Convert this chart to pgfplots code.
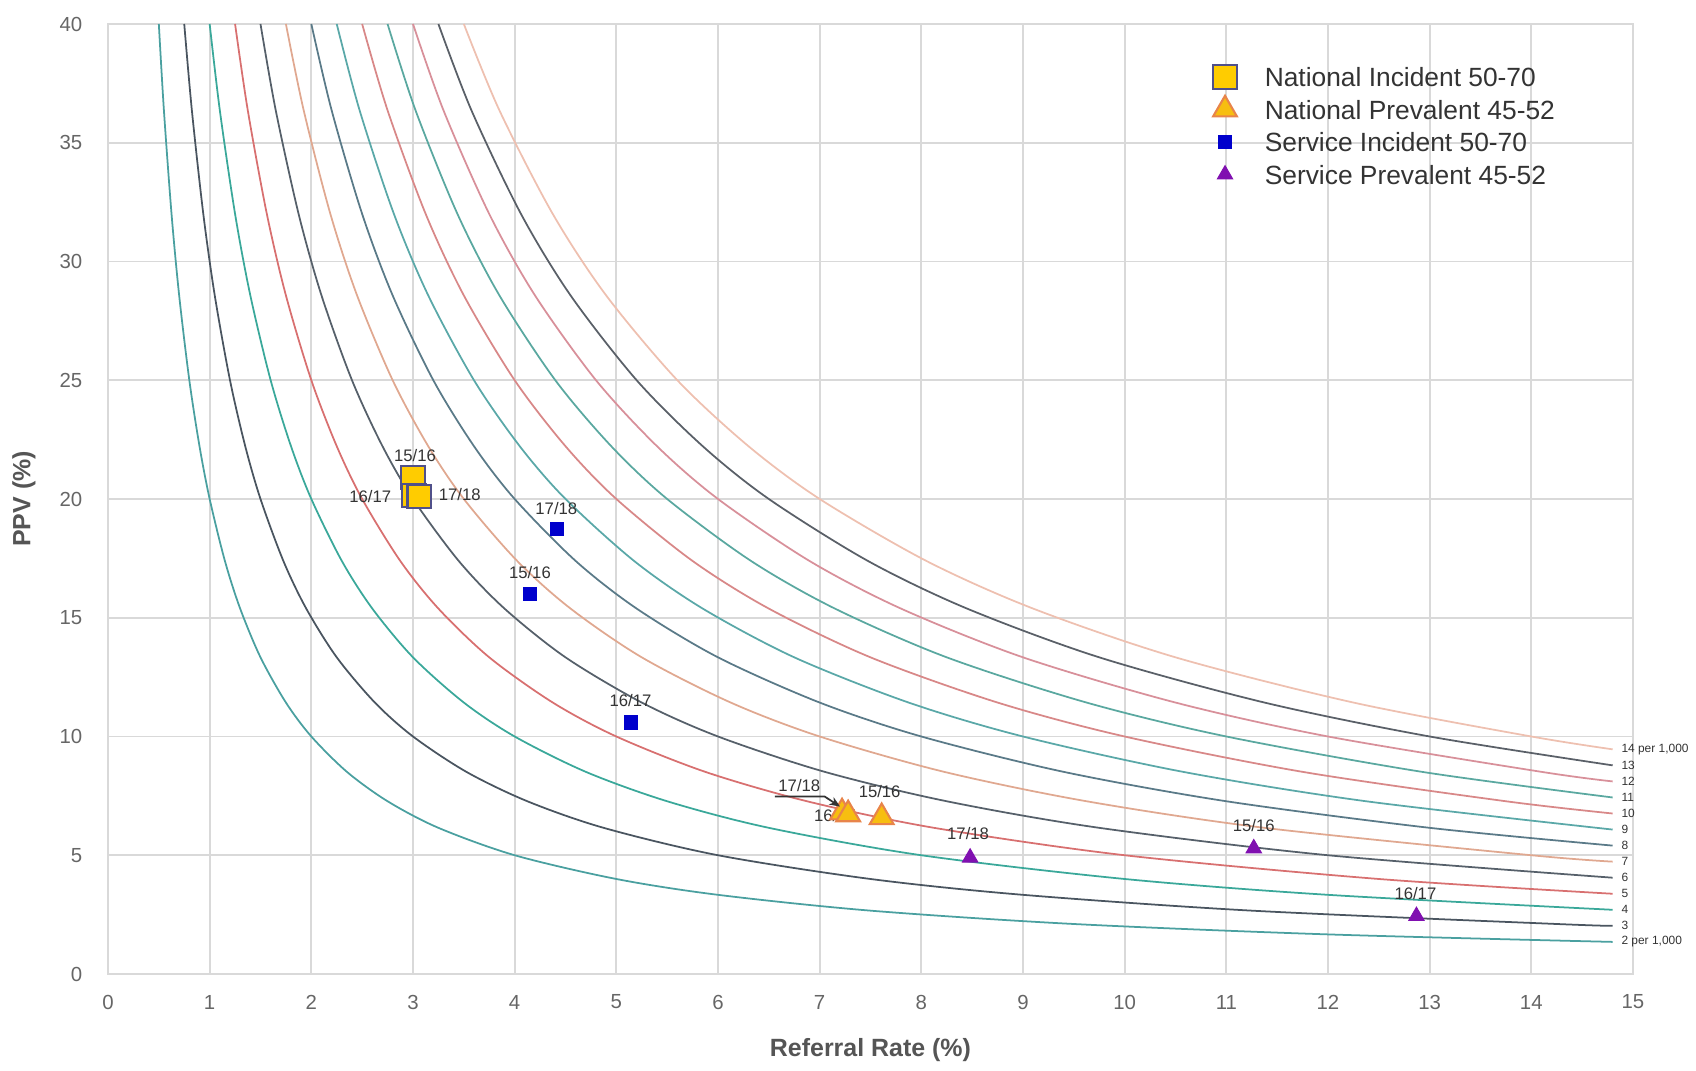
\documentclass[border=0pt]{standalone}
\usepackage{fontspec}
\setmainfont{Liberation Sans}
\usepackage{pgfplots}
\pgfplotsset{compat=1.18}
\usetikzlibrary{arrows.meta}
\definecolor{gridc}{HTML}{D9D9D9}
\definecolor{tickc}{HTML}{666666}
\definecolor{labc}{HTML}{555555}
\definecolor{legc}{HTML}{333333}
\definecolor{c2}{HTML}{4AA0A0}
\definecolor{c3}{HTML}{4A5560}
\definecolor{c4}{HTML}{3AA89A}
\definecolor{c5}{HTML}{D87070}
\definecolor{c6}{HTML}{56606A}
\definecolor{c7}{HTML}{E0A890}
\definecolor{c8}{HTML}{5A7A88}
\definecolor{c9}{HTML}{5AA8A8}
\definecolor{c10}{HTML}{D88888}
\definecolor{c11}{HTML}{5AA8A0}
\definecolor{c12}{HTML}{D8909A}
\definecolor{c13}{HTML}{5A6068}
\definecolor{c14}{HTML}{EEC0B0}
\definecolor{yel}{HTML}{FFCC00}
\definecolor{yelor}{HTML}{F7BE10}
\definecolor{natincb}{HTML}{50508A}
\definecolor{natprevb}{HTML}{E8844A}
\definecolor{servinc}{HTML}{0000CC}
\definecolor{servprev}{HTML}{8010B0}
\tikzset{
  plab/.style={font=\fontsize{4.75}{5}\selectfont, text=legc, inner sep=0pt},
  clab/.style={font=\fontsize{3.4}{4}\selectfont, text=legc, inner sep=0pt, anchor=west},
}
\pgfplotsset{
  iso/.style={smooth, line width=0.5pt, forget plot},
  mylegimg/.style={legend image code/.code={\path[draw=none, fill=none] (-0.14cm,-4pt) rectangle (0.14cm,4pt); \draw[##1] plot coordinates {(0cm,0cm)};}},
}
\begin{document}
\begin{tikzpicture}
\begin{axis}[
  at={(0,0)}, anchor=south west,
  width=15.25cm, height=9.5cm, scale only axis,
  xmin=0, xmax=15, ymin=0, ymax=40,
  xtick={0,1,2,3,4,5,6,7,8,9,10,11,12,13,14,15},
  ytick={0,5,10,15,20,25,30,35,40},
  grid=major, grid style={draw=gridc, line width=0.5pt},
  axis line style={draw=gridc, line width=0.5pt},
  major tick length=0pt,
  tick label style={font=\fontsize{5.8}{6}\selectfont, text=tickc, inner sep=0pt},
  xticklabel style={anchor=center, yshift=-0.28cm},
  yticklabel style={anchor=east, xshift=-0.25cm},
  /pgf/number format/assume math mode=true,
  xlabel={Referral Rate (\%)}, ylabel={PPV (\%)},
  label style={font=\bfseries\fontsize{7.1}{8}\selectfont, text=labc},
  xlabel style={at={(axis description cs:0.5,-0.08)}, anchor=center},
  ylabel style={at={(axis description cs:-0.0551,0.5)}, anchor=center},
  clip mode=individual,
  legend cell align=left,
  legend style={at={(axis description cs:0.7233,0.959)}, anchor=north west,
    draw=none, fill=none, inner sep=0pt, outer sep=0pt,
    column sep=0.24cm, row sep=1.25pt,
    font=\fontsize{7.5}{8}\selectfont, text=legc,
    nodes={inner sep=0.5pt, text height=5.5pt, text depth=0pt}},
]
% iso-lines: detection rate per 1,000
\addplot[iso, c2] coordinates {(0.5,40) (0.55,36.364) (0.625,32) (0.7,28.571) (0.8,25) (0.9,22.222) (1,20) (1.15,17.391) (1.3,15.385) (1.5,13.333) (1.75,11.429) (2,10) (2.35,8.511) (2.75,7.273) (3.25,6.154) (4,5) (5,4) (6,3.333) (7.5,2.667) (9.5,2.105) (12,1.667) (14.8,1.351)};
\addplot[iso, c3] coordinates {(0.75,40) (0.825,36.364) (0.9375,32) (1.05,28.571) (1.2,25) (1.35,22.222) (1.5,20) (1.725,17.391) (1.95,15.385) (2.25,13.333) (2.625,11.429) (3,10) (3.525,8.511) (4.125,7.273) (4.875,6.154) (6,5) (7.5,4) (9,3.333) (11.25,2.667) (14.25,2.105) (14.8,2.027)};
\addplot[iso, c4] coordinates {(1,40) (1.1,36.364) (1.25,32) (1.4,28.571) (1.6,25) (1.8,22.222) (2,20) (2.3,17.391) (2.6,15.385) (3,13.333) (3.5,11.429) (4,10) (4.7,8.511) (5.5,7.273) (6.5,6.154) (8,5) (10,4) (12,3.333) (14.8,2.703)};
\addplot[iso, c5] coordinates {(1.25,40) (1.375,36.364) (1.5625,32) (1.75,28.571) (2,25) (2.25,22.222) (2.5,20) (2.875,17.391) (3.25,15.385) (3.75,13.333) (4.375,11.429) (5,10) (5.875,8.511) (6.875,7.273) (8.125,6.154) (10,5) (12.5,4) (14.8,3.378)};
\addplot[iso, c6] coordinates {(1.5,40) (1.65,36.364) (1.875,32) (2.1,28.571) (2.4,25) (2.7,22.222) (3,20) (3.45,17.391) (3.9,15.385) (4.5,13.333) (5.25,11.429) (6,10) (7.05,8.511) (8.25,7.273) (9.75,6.154) (12,5) (14.8,4.054)};
\addplot[iso, c7] coordinates {(1.75,40) (1.925,36.364) (2.1875,32) (2.45,28.571) (2.8,25) (3.15,22.222) (3.5,20) (4.025,17.391) (4.55,15.385) (5.25,13.333) (6.125,11.429) (7,10) (8.225,8.511) (9.625,7.273) (11.375,6.154) (14,5) (14.8,4.730)};
\addplot[iso, c8] coordinates {(2,40) (2.2,36.364) (2.5,32) (2.8,28.571) (3.2,25) (3.6,22.222) (4,20) (4.6,17.391) (5.2,15.385) (6,13.333) (7,11.429) (8,10) (9.4,8.511) (11,7.273) (13,6.154) (14.8,5.405)};
\addplot[iso, c9] coordinates {(2.25,40) (2.475,36.364) (2.8125,32) (3.15,28.571) (3.6,25) (4.05,22.222) (4.5,20) (5.175,17.391) (5.85,15.385) (6.75,13.333) (7.875,11.429) (9,10) (10.575,8.511) (12.375,7.273) (14.8,6.081)};
\addplot[iso, c10] coordinates {(2.5,40) (2.75,36.364) (3.125,32) (3.5,28.571) (4,25) (4.5,22.222) (5,20) (5.75,17.391) (6.5,15.385) (7.5,13.333) (8.75,11.429) (10,10) (11.75,8.511) (13.75,7.273) (14.8,6.757)};
\addplot[iso, c11] coordinates {(2.75,40) (3.025,36.364) (3.4375,32) (3.85,28.571) (4.4,25) (4.95,22.222) (5.5,20) (6.325,17.391) (7.15,15.385) (8.25,13.333) (9.625,11.429) (11,10) (12.925,8.511) (14.8,7.432)};
\addplot[iso, c12] coordinates {(3,40) (3.3,36.364) (3.75,32) (4.2,28.571) (4.8,25) (5.4,22.222) (6,20) (6.9,17.391) (7.8,15.385) (9,13.333) (10.5,11.429) (12,10) (14.1,8.511) (14.8,8.108)};
\addplot[iso, c13] coordinates {(3.25,40) (3.575,36.364) (4.0625,32) (4.55,28.571) (5.2,25) (5.85,22.222) (6.5,20) (7.475,17.391) (8.45,15.385) (9.75,13.333) (11.375,11.429) (13,10) (14.8,8.784)};
\addplot[iso, c14] coordinates {(3.5,40) (3.85,36.364) (4.375,32) (4.9,28.571) (5.6,25) (6.3,22.222) (7,20) (8.05,17.391) (9.1,15.385) (10.5,13.333) (12.25,11.429) (14,10) (14.8,9.459)};
% iso-line labels
\node[clab] at (axis cs:14.88,9.459) {14 per 1,000};
\node[clab] at (axis cs:14.88,8.784) {13};
\node[clab] at (axis cs:14.88,8.108) {12};
\node[clab] at (axis cs:14.88,7.432) {11};
\node[clab] at (axis cs:14.88,6.757) {10};
\node[clab] at (axis cs:14.88,6.081) {9};
\node[clab] at (axis cs:14.88,5.405) {8};
\node[clab] at (axis cs:14.88,4.730) {7};
\node[clab] at (axis cs:14.88,4.054) {6};
\node[clab] at (axis cs:14.88,3.378) {5};
\node[clab] at (axis cs:14.88,2.703) {4};
\node[clab] at (axis cs:14.88,2.027) {3};
\node[clab] at (axis cs:14.88,1.351) {2 per 1,000};
% label partly hidden behind triangle
\node[plab] at (axis cs:7.15,6.69) {16/17};
% data
\addplot[only marks, mark=square*, mark size=3.3pt, mark options={fill=yel, draw=natincb, line width=0.6pt}, mylegimg]
  coordinates {(3.00,20.9) (3.01,20.15) (3.06,20.1)};
\addlegendentry{National Incident 50-70}
\addplot[only marks, mark=triangle*, mark size=3.9pt, mark options={fill=yelor, draw=natprevb, line width=0.6pt}, mylegimg]
  coordinates {(7.61,6.6) (7.22,6.8) (7.28,6.72)};
\addlegendentry{National Prevalent 45-52}
\addplot[only marks, mark=square*, mark size=1.85pt, mark options={fill=servinc, draw=servinc, line width=0.3pt}, mylegimg]
  coordinates {(4.15,16.0) (5.14,10.59) (4.42,18.74)};
\addlegendentry{Service Incident 50-70}
\addplot[only marks, mark=triangle*, mark size=2.5pt, mark options={fill=servprev, draw=servprev, line width=0.3pt}, mylegimg]
  coordinates {(11.27,5.29) (12.87,2.44) (8.48,4.9)};
\addlegendentry{Service Prevalent 45-52}
% point labels
\node[plab] at (axis cs:3.02,21.85) {15/16};
\node[plab] at (axis cs:2.58,20.1) {16/17};
\node[plab] at (axis cs:3.46,20.17) {17/18};
\node[plab] at (axis cs:4.41,19.61) {17/18};
\node[plab] at (axis cs:4.15,16.9) {15/16};
\node[plab] at (axis cs:5.14,11.5) {16/17};
\node[plab] at (axis cs:7.59,7.68) {15/16};
\node[plab] at (axis cs:6.8,7.92) {17/18};
\draw[legc, line width=0.5pt, -{Stealth[length=3pt,width=2.5pt]}] (axis cs:6.56,7.47) -- (axis cs:7.05,7.47) -- (axis cs:7.2,7.05);
\node[plab] at (axis cs:8.46,5.9) {17/18};
\node[plab] at (axis cs:11.27,6.27) {15/16};
\node[plab] at (axis cs:12.86,3.4) {16/17};
\end{axis}
\pgfresetboundingbox
\path (-1.08cm,-0.97cm) rectangle (15.88cm,9.74cm);
\end{tikzpicture}
\end{document}
